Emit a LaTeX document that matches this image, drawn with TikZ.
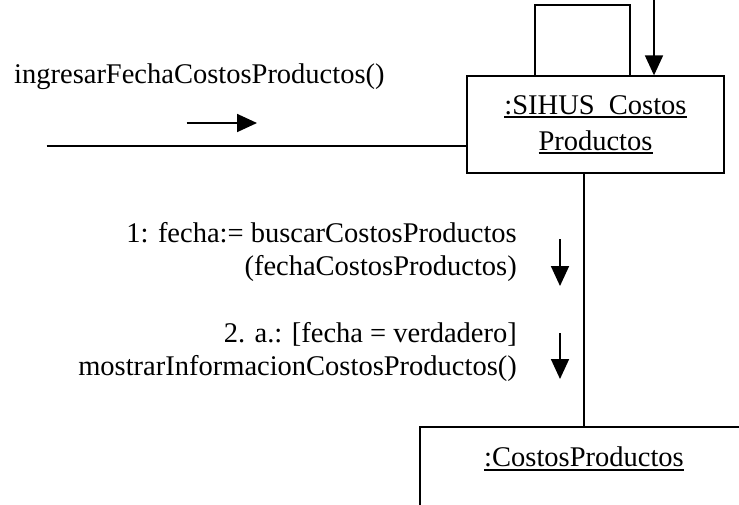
\documentclass[tikz,border=0pt]{standalone}
\usepackage{fontspec}
\setmainfont{Liberation Serif}
\usepackage{tikz}
\usetikzlibrary{arrows.meta, positioning, calc}
\newcommand{\undl}[1]{\setbox0\hbox{#1}\rlap{\rule[-3.8pt]{\wd0}{1.8pt}}#1}
\tikzset{
  objbox/.style={rectangle, draw=black, line width=1.8pt, align=center, inner sep=0pt},
  msgtxt/.style={inner sep=0pt, align=right},
  msgarrow/.style={-{Triangle[length=20pt, width=18pt]}, line width=1.8pt},
  link/.style={line width=1.8pt}
}
\begin{document}
\begin{tikzpicture}[x=1pt, y=-1pt, every node/.style={font=\fontsize{28.5}{33}\selectfont}]
    \clip (0,0) rectangle (739,504);
    \fill[white] (0,0) rectangle (739,504);

    % Objects
    \node[objbox, minimum width=257pt, minimum height=96.5pt] (sihus) at (595.5,124.5)
      {\undl{:SIHUS\_Costos}\\[3pt]\undl{Productos}};
    \node[objbox, anchor=north, minimum width=328pt, text height=20pt, text depth=80pt,
      inner ysep=20pt] (costos) at (584,426) {\undl{:CostosProductos}};

    % Incoming message
    \coordinate (entrada) at (46.7,146);
    \draw[link] (entrada) -- (entrada -| sihus.west);
    \node[msgtxt, anchor=west] (lblIngresar) at (14,77) {ingresarFechaCostosProductos()};
    \coordinate (ingA) at (186.6,123);
    \coordinate (ingB) at (257,123);
    \draw[msgarrow] (ingA) -- (ingB);

    % Self link
    \draw[link] ([xshift=69pt]sihus.north west) -- ++(0,-70.3) -- ++(94.5,0)
      -- ([xshift=163.5pt]sihus.north west);
    \coordinate (selfTop) at (654,0);
    \draw[msgarrow] (selfTop) -- (selfTop |- sihus.north);

    % Link between objects
    \draw[link] (costos.north |- sihus.south) -- (costos.north);

    % Messages
    \node[msgtxt, anchor=east] (lblBuscar) at (517,252)
      {1: fecha:= buscarCostosProductos\\(fechaCostosProductos)};
    \coordinate (m1A) at (560,239);
    \coordinate (m1B) at (560,286);
    \draw[msgarrow] (m1A) -- (m1B);

    \node[msgtxt, anchor=east] (lblMostrar) at (517,351.5)
      {2. a.: [fecha = verdadero]\\mostrarInformacionCostosProductos()};
    \coordinate (m2A) at (560,333);
    \coordinate (m2B) at (560,379);
    \draw[msgarrow] (m2A) -- (m2B);
  \end{tikzpicture}
\end{document}
